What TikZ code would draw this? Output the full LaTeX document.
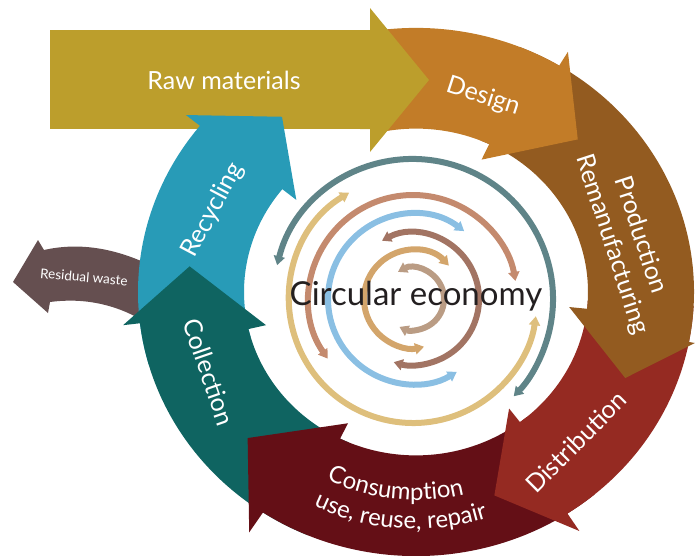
\documentclass[tikz,border=0pt]{standalone}
\usepackage{fontspec}
\setmainfont{Lato}
\usetikzlibrary{arrows.meta,calc,decorations.text}

\definecolor{rawcol}{HTML}{BC9E2C}
\definecolor{designcol}{HTML}{C27C28}
\definecolor{prodcol}{HTML}{935B20}
\definecolor{distcol}{HTML}{952A22}
\definecolor{conscol}{HTML}{640F16}
\definecolor{collcol}{HTML}{0F6461}
\definecolor{recycol}{HTML}{289BB7}
\definecolor{wastecol}{HTML}{654F50}
\definecolor{sptealcol}{HTML}{5F8488}
\definecolor{spgoldcol}{HTML}{DEBF7C}
\definecolor{spsalmoncol}{HTML}{C48A6E}
\definecolor{spbluecol}{HTML}{8ABFE3}
\definecolor{spmauvecol}{HTML}{A27463}
\definecolor{sptancol}{HTML}{D3A56B}
\definecolor{spbeigecol}{HTML}{BA9C84}
\definecolor{textcol}{HTML}{231F20}

% ring arrow: colour, tail angle, outer barb angle, inner barb angle, tip angle, outer barb radius
\newcommand{\ringarrow}[6]{%
  \fill[#1] (#2:278) arc[start angle=#2, end angle=#3, radius=278]
    -- (#3:#6) -- (#5:228) -- (#4:154) -- (#4:172)
    arc[start angle=#4, end angle=#2, radius=172] -- cycle;}

\begin{document}
\begin{tikzpicture}
[x=1pt,y=1pt,
 lbl/.style={text=white, font=\fontsize{25}{30}\selectfont, inner sep=0pt},
 spiral/.style={line width=6pt, arrows={Triangle[width=11pt,length=9pt]-Triangle[width=11pt,length=9pt]}}]
  \useasboundingbox (0,0) rectangle (697,-555);
  \coordinate (rc) at (416,-292);
  \coordinate (sc) at (413,-299);

  % residual waste
  \fill[wastecol] (150,-265) .. controls (110,-246) and (75,-243) .. (44,-250)
    -- (38,-240) -- (13,-282) -- (48,-313) -- (50,-302)
    .. controls (80,-298) and (115,-302) .. (150,-325) -- cycle;

  % raw materials body
  \fill[rawcol] (50,-30) rectangle (370,-129);

  \begin{scope}[shift={(rc)}, yscale=0.95]
    \ringarrow{recycol}{196}{141}{141}{126}{296}
    \ringarrow{collcol}{247}{186.8}{193.1}{173.2}{295}
    \ringarrow{conscol}{310}{236.6}{243.8}{222.4}{303}
    \ringarrow{distcol}{357}{303}{307.2}{290.1}{300}
    \ringarrow{prodcol}{68}{-10.9}{-5.9}{-23.4}{284}
    \ringarrow{designcol}{100}{59}{64.8}{44.8}{295}
  \end{scope}

  % raw materials head
  \fill[rawcol] (360,-30) -- (370,-30) -- (370,-8) -- (429,-80)
    -- (370,-152) -- (370,-129) -- (360,-129) -- cycle;

  \foreach \c/\r/\a/\b in {sptealcol/140/166/-44, spgoldcol/124/121/352,
      spsalmoncol/104/215/10, spbluecol/85/53/301, spmauvecol/66/118/-107,
      sptancol/49/43/283, spbeigecol/31/119/-116}
    \draw[spiral, \c] ($(sc)+(\a:\r)$) arc[start angle=\a, end angle=\b, radius=\r];

  \node[lbl] (raw) at (224,-80) {Raw materials};
  \node[lbl, rotate=-18] (design) at (483,-97) {Design};
  \node[lbl, rotate=-72, align=center] (prod) at (626,-240) {Production\\Remanufacturing};
  \node[lbl, rotate=45] (dist) at (576,-442) {Distribution};
  \node[lbl, rotate=-71] (coll) at (209,-372) {Collection};
  \node[lbl, rotate=62] (recy) at (213,-210) {Recycling};
  \node[text=white, font=\fontsize{13.5}{16}\selectfont, rotate=-5] (waste) at (84,-277) {Residual waste};
  \node[text=textcol, font=\fontsize{33}{38}\selectfont] (circ) at (416,-296) {Circular economy};

  \path[decorate, decoration={text along path, text align=center,
      text={|\color{white}\fontsize{24}{28}\selectfont|Consumption}}]
    ($(rc)+(224:208)$) arc[start angle=224, end angle=304, radius=208];
  \path[decorate, decoration={text along path, text align=center,
      text={|\color{white}\fontsize{24}{28}\selectfont|use, reuse, repair}}]
    ($(rc)+(226:237)$) arc[start angle=226, end angle=306, radius=237];
\end{tikzpicture}
\end{document}
